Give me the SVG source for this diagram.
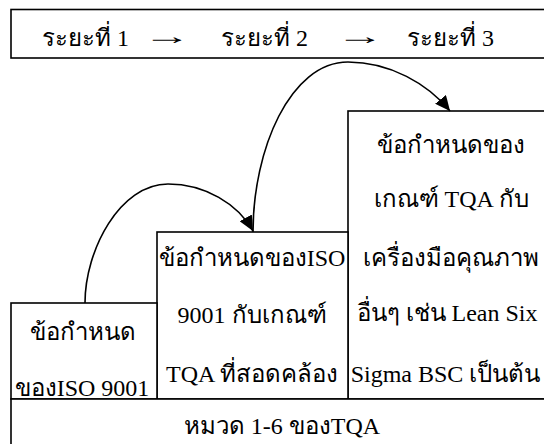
<svg xmlns="http://www.w3.org/2000/svg" width="544" height="444" viewBox="0 0 544 444">
<style>
.box{fill:#fff;stroke:#000;stroke-width:1.6}
.t{font-family:"Liberation Serif","Noto Sans","DejaVu Serif",serif;font-size:24px;fill:#000}
.c{text-anchor:middle}
.conn{fill:none;stroke:#000;stroke-width:1.6}
</style>
<defs>
<marker id="ah" markerUnits="userSpaceOnUse" markerWidth="16" markerHeight="14" refX="15" refY="7" orient="auto">
<path d="M0,0 L15,7 L0,14 Z" fill="#000"/>
</marker>
</defs>
<rect width="544" height="444" fill="#fff"/>
<g id="header">
<rect class="box" x="11" y="9.5" width="545" height="48.5" stroke-width="2"/>
<text class="t" x="42" y="46">ระยะที่ 1</text>
<text class="t" transform="translate(143,44) scale(2,1)">→</text>
<text class="t" x="221" y="46">ระยะที่ 2</text>
<text class="t" transform="translate(336,44) scale(2,1)">→</text>
<text class="t" x="407" y="46">ระยะที่ 3</text>
</g>
<g id="stage3">
<rect class="box" x="348" y="111" width="210" height="288"/>
<text class="t c" x="451" y="153">ข้อกำหนดของ</text>
<text class="t c" x="451" y="207">เกณฑ์ TQA กับ</text>
<text class="t c" x="451" y="266">เครื่องมือคุณภาพ</text>
<text class="t c" x="447" y="321">อื่นๆ เช่น Lean Six</text>
<text class="t c" x="445.5" y="382">Sigma BSC เป็นต้น</text>
</g>
<g id="stage2">
<rect class="box" x="157" y="232" width="191" height="167"/>
<text class="t c" x="252" y="266">ข้อกำหนดของISO</text>
<text class="t c" x="252" y="323">9001 กับเกณฑ์</text>
<text class="t c" x="252" y="382">TQA ที่สอดคล้อง</text>
</g>
<g id="stage1">
<rect class="box" x="11" y="303" width="146" height="96"/>
<text class="t c" x="83" y="340">ข้อกำหนด</text>
<text class="t c" x="82" y="396">ของISO 9001</text>
</g>
<g id="base">
<rect class="box" x="11" y="399" width="545" height="60"/>
<text class="t c" x="282" y="434">หมวด 1-6 ของTQA</text>
</g>
<g id="connectors">
<path class="conn" d="M85,303 C85,250 120,184 168,184 C205,184 238,204 253,231" marker-end="url(#ah)"/>
<path class="conn" d="M253,232 C253,150 290,62 348,62 C390,62 428,84 450,111" marker-end="url(#ah)"/>
</g>
</svg>
